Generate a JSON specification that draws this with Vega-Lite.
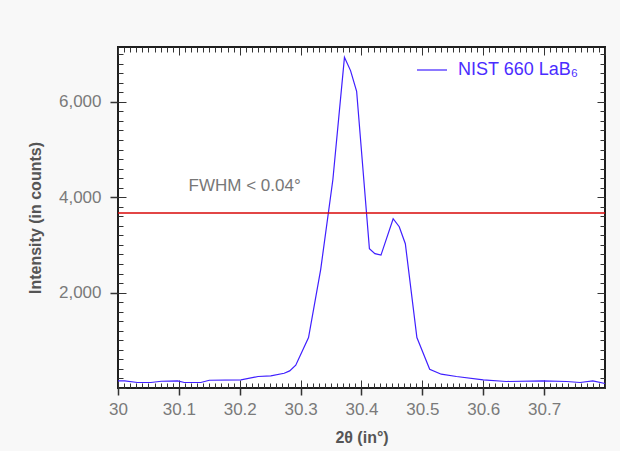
{
  "$schema": "https://vega.github.io/schema/vega-lite/v6.json",
  "width": 487,
  "height": 341,
  "autosize": {"type": "none"},
  "padding": {"left": 118, "top": 47, "right": 15, "bottom": 63},
  "background": "#f8f8f8",
  "config": {
    "view": {"stroke": "#1e1e1e", "strokeWidth": 2, "fill": "white"},
    "axis": {"grid": false, "domain": false, "tickColor": "#333", "labelFont": "Liberation Sans", "titleFont": "Liberation Sans"},
    "legend": {"labelFont": "Liberation Sans"}
  },
  "data": {
    "values": [
      {"x": 30.000, "y": 149}, {"x": 30.011, "y": 149}, {"x": 30.032, "y": 115}, {"x": 30.054, "y": 115},
      {"x": 30.071, "y": 142}, {"x": 30.098, "y": 149}, {"x": 30.109, "y": 115}, {"x": 30.136, "y": 115},
      {"x": 30.150, "y": 163}, {"x": 30.202, "y": 170}, {"x": 30.230, "y": 241}, {"x": 30.251, "y": 253},
      {"x": 30.273, "y": 310}, {"x": 30.282, "y": 358}, {"x": 30.292, "y": 477}, {"x": 30.313, "y": 1057},
      {"x": 30.333, "y": 2488}, {"x": 30.353, "y": 4372}, {"x": 30.372, "y": 6933}, {"x": 30.382, "y": 6655},
      {"x": 30.392, "y": 6221}, {"x": 30.413, "y": 2921}, {"x": 30.422, "y": 2816}, {"x": 30.432, "y": 2787},
      {"x": 30.452, "y": 3549}, {"x": 30.462, "y": 3382}, {"x": 30.472, "y": 3026}, {"x": 30.491, "y": 1057},
      {"x": 30.512, "y": 394}, {"x": 30.531, "y": 289}, {"x": 30.556, "y": 241}, {"x": 30.600, "y": 170},
      {"x": 30.638, "y": 136}, {"x": 30.698, "y": 149}, {"x": 30.737, "y": 136}, {"x": 30.759, "y": 115},
      {"x": 30.780, "y": 149}, {"x": 30.800, "y": 94}
    ]
  },
  "resolve": {"axis": {"x": "independent", "y": "independent"}},
  "layer": [
    {
      "mark": {"type": "line", "strokeWidth": 1.2},
      "encoding": {
        "x": {
          "field": "x", "type": "quantitative",
          "scale": {"domain": [30, 30.8], "nice": false, "zero": false},
          "axis": {
            "orient": "bottom", "values": [30, 30.1, 30.2, 30.3, 30.4, 30.5, 30.6, 30.7],
            "format": "~f", "formatType": "number",
            "tickSize": 7, "tickWidth": 1.5, "labelFontSize": 17, "labelColor": "#7a7a7a", "labelPadding": 6,
            "labelFlush": false, "title": "2θ (in°)", "titleFontSize": 16, "titleFontWeight": "bold",
            "titleColor": "#555", "titlePadding": 12
          }
        },
        "y": {
          "field": "y", "type": "quantitative",
          "scale": {"domain": [0, 7150], "nice": false},
          "axis": {
            "orient": "left", "values": [2000, 4000, 6000], "format": ",.0f", "formatType": "number",
            "tickSize": 8, "tickWidth": 1.5,
            "labelFontSize": 17, "labelColor": "#7a7a7a", "labelPadding": 9,
            "title": "Intensity (in counts)", "titleFontSize": 16, "titleFontWeight": "bold",
            "titleColor": "#555", "titlePadding": 15
          }
        },
        "color": {
          "datum": "NIST 660 LaB₆",
          "scale": {"range": ["#3f1fff"]},
          "legend": {
            "title": null, "orient": "none", "legendX": 298, "legendY": 7,
            "symbolType": "stroke", "symbolSize": 900, "symbolStrokeWidth": 1.2,
            "labelFontSize": 18, "labelColor": "#4a2cff", "labelOffset": 10
          }
        }
      }
    },
    {
      "data": {"values": [{"fwhm": 3670}]},
      "mark": {"type": "rule", "color": "#d80808", "strokeWidth": 1.5},
      "encoding": {
        "x": {"datum": 30, "type": "quantitative",
          "axis": {
            "orient": "bottom", "labels": false, "title": null, "tickWidth": 1,
            "tickSize": {"condition": {"test": "abs(datum.value*10 - round(datum.value*10)) < 0.01", "value": -8}, "value": -5},
            "values": [30,30.01,30.02,30.03,30.04,30.05,30.06,30.07,30.08,30.09,30.1,30.11,30.12,30.13,30.14,30.15,30.16,30.17,30.18,30.19,30.2,30.21,30.22,30.23,30.24,30.25,30.26,30.27,30.28,30.29,30.3,30.31,30.32,30.33,30.34,30.35,30.36,30.37,30.38,30.39,30.4,30.41,30.42,30.43,30.44,30.45,30.46,30.47,30.48,30.49,30.5,30.51,30.52,30.53,30.54,30.55,30.56,30.57,30.58,30.59,30.6,30.61,30.62,30.63,30.64,30.65,30.66,30.67,30.68,30.69,30.7,30.71,30.72,30.73,30.74,30.75,30.76,30.77,30.78,30.79,30.8]
          }
        },
        "x2": {"datum": 30.8},
        "y": {"field": "fwhm", "type": "quantitative",
          "axis": {
            "orient": "left", "labels": false, "title": null, "tickWidth": 1,
            "tickSize": {"condition": {"test": "datum.value % 2000 == 0", "value": -8}, "value": -5},
            "values": [0,200,400,600,800,1000,1200,1400,1600,1800,2000,2200,2400,2600,2800,3000,3200,3400,3600,3800,4000,4200,4400,4600,4800,5000,5200,5400,5600,5800,6000,6200,6400,6600,6800,7000]
          }
        }
      }
    },
    {
      "data": {"values": [{"label": "FWHM < 0.04°"}]},
      "mark": {"type": "text", "font": "Liberation Sans", "fontSize": 17, "color": "#777", "align": "center", "baseline": "middle"},
      "encoding": {
        "text": {"field": "label"},
        "x": {"datum": 30.208, "type": "quantitative",
          "axis": {
            "orient": "top", "labels": false, "title": null, "tickWidth": 1,
            "tickSize": {"condition": {"test": "abs(datum.value*10 - round(datum.value*10)) < 0.01", "value": -8}, "value": -5},
            "values": [30,30.01,30.02,30.03,30.04,30.05,30.06,30.07,30.08,30.09,30.1,30.11,30.12,30.13,30.14,30.15,30.16,30.17,30.18,30.19,30.2,30.21,30.22,30.23,30.24,30.25,30.26,30.27,30.28,30.29,30.3,30.31,30.32,30.33,30.34,30.35,30.36,30.37,30.38,30.39,30.4,30.41,30.42,30.43,30.44,30.45,30.46,30.47,30.48,30.49,30.5,30.51,30.52,30.53,30.54,30.55,30.56,30.57,30.58,30.59,30.6,30.61,30.62,30.63,30.64,30.65,30.66,30.67,30.68,30.69,30.7,30.71,30.72,30.73,30.74,30.75,30.76,30.77,30.78,30.79,30.8]
          }
        },
        "y": {"datum": 4226, "type": "quantitative",
          "axis": {
            "orient": "right", "labels": false, "title": null, "tickWidth": 1,
            "tickSize": {"condition": {"test": "datum.value % 2000 == 0", "value": -8}, "value": -5},
            "values": [0,200,400,600,800,1000,1200,1400,1600,1800,2000,2200,2400,2600,2800,3000,3200,3400,3600,3800,4000,4200,4400,4600,4800,5000,5200,5400,5600,5800,6000,6200,6400,6600,6800,7000]
          }
        }
      }
    }
  ]
}
